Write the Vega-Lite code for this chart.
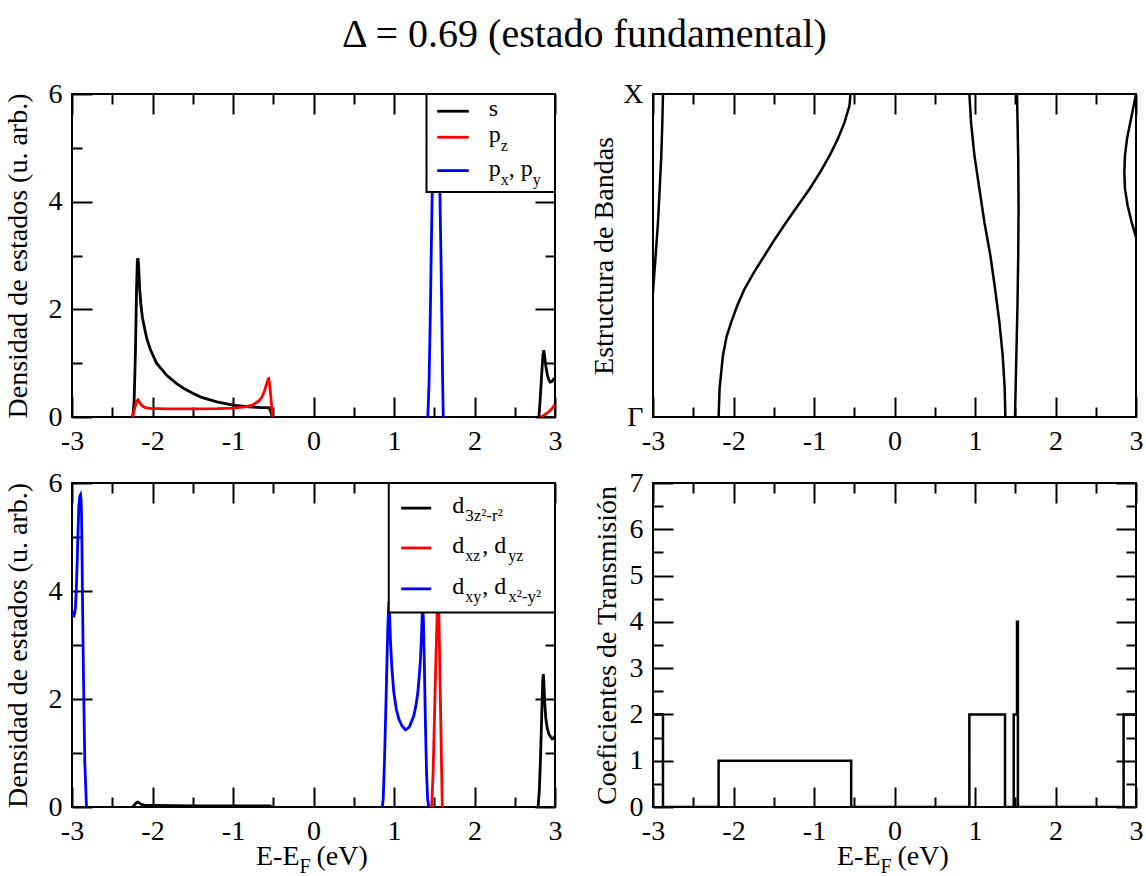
{
"$schema": "https://vega.github.io/schema/vega-lite/v6.json",
"background": "white",
"padding": {"left": 3, "top": 15, "right": 10, "bottom": 0},
"title": {"text": "Δ = 0.69 (estado fundamental)", "font": "Liberation Serif", "fontSize": 40, "fontWeight": "normal", "color": "black", "anchor": "start", "frame": "group", "dx": 270, "offset": 24},
"config": {
 "view": {"stroke": "black", "strokeWidth": 2},
 "axis": {"grid": false, "domain": false, "labelFont": "Liberation Serif", "labelFontSize": 28, "labelColor": "black", "titleFont": "Liberation Serif", "titleFontSize": 28, "titleFontWeight": "normal", "titleColor": "black", "tickColor": "black", "tickWidth": 2, "labelFlush": false, "labelOverlap": false, "labelBound": false},
 "text": {"font": "Liberation Serif", "color": "black"}
},
"datasets": {
 "one": [{}],
 "tl": [
  {"E": -2.245, "v": 0, "o": "s", "g": "s1"}, {"E": -2.228, "v": 0.3, "o": "s", "g": "s1"}, {"E": -2.212, "v": 1.2, "o": "s", "g": "s1"}, {"E": -2.198, "v": 2.4, "o": "s", "g": "s1"}, {"E": -2.188, "v": 2.92, "o": "s", "g": "s1"}, {"E": -2.18, "v": 2.95, "o": "s", "g": "s1"}, {"E": -2.172, "v": 2.8, "o": "s", "g": "s1"}, {"E": -2.16, "v": 2.4, "o": "s", "g": "s1"}, {"E": -2.145, "v": 2.1, "o": "s", "g": "s1"}, {"E": -2.125, "v": 1.85, "o": "s", "g": "s1"}, {"E": -2.108, "v": 1.72, "o": "s", "g": "s1"}, {"E": -2.07, "v": 1.45, "o": "s", "g": "s1"}, {"E": -2.025, "v": 1.25, "o": "s", "g": "s1"}, {"E": -1.95, "v": 1.0, "o": "s", "g": "s1"}, {"E": -1.82, "v": 0.77, "o": "s", "g": "s1"}, {"E": -1.7, "v": 0.62, "o": "s", "g": "s1"}, {"E": -1.61, "v": 0.53, "o": "s", "g": "s1"}, {"E": -1.5, "v": 0.44, "o": "s", "g": "s1"}, {"E": -1.4, "v": 0.37, "o": "s", "g": "s1"}, {"E": -1.2, "v": 0.28, "o": "s", "g": "s1"}, {"E": -1.0, "v": 0.22, "o": "s", "g": "s1"}, {"E": -0.8, "v": 0.19, "o": "s", "g": "s1"}, {"E": -0.65, "v": 0.175, "o": "s", "g": "s1"}, {"E": -0.58, "v": 0.175, "o": "s", "g": "s1"}, {"E": -0.55, "v": 0.17, "o": "s", "g": "s1"}, {"E": -0.53, "v": 0.1, "o": "s", "g": "s1"}, {"E": -0.515, "v": 0, "o": "s", "g": "s1"},
  {"E": 2.8, "v": 0, "o": "s", "g": "s2"}, {"E": 2.815, "v": 0.3, "o": "s", "g": "s2"}, {"E": 2.835, "v": 0.8, "o": "s", "g": "s2"}, {"E": 2.85, "v": 1.15, "o": "s", "g": "s2"}, {"E": 2.86, "v": 1.24, "o": "s", "g": "s2"}, {"E": 2.87, "v": 1.15, "o": "s", "g": "s2"}, {"E": 2.885, "v": 0.95, "o": "s", "g": "s2"}, {"E": 2.905, "v": 0.78, "o": "s", "g": "s2"}, {"E": 2.925, "v": 0.68, "o": "s", "g": "s2"}, {"E": 2.94, "v": 0.65, "o": "s", "g": "s2"}, {"E": 2.96, "v": 0.66, "o": "s", "g": "s2"}, {"E": 2.98, "v": 0.7, "o": "s", "g": "s2"}, {"E": 3.0, "v": 0.72, "o": "s", "g": "s2"},
  {"E": -2.25, "v": 0, "o": "pz", "g": "p1"}, {"E": -2.235, "v": 0.08, "o": "pz", "g": "p1"}, {"E": -2.215, "v": 0.2, "o": "pz", "g": "p1"}, {"E": -2.195, "v": 0.3, "o": "pz", "g": "p1"}, {"E": -2.178, "v": 0.32, "o": "pz", "g": "p1"}, {"E": -2.16, "v": 0.27, "o": "pz", "g": "p1"}, {"E": -2.13, "v": 0.21, "o": "pz", "g": "p1"}, {"E": -2.09, "v": 0.175, "o": "pz", "g": "p1"}, {"E": -2.03, "v": 0.16, "o": "pz", "g": "p1"}, {"E": -1.8, "v": 0.15, "o": "pz", "g": "p1"}, {"E": -1.5, "v": 0.15, "o": "pz", "g": "p1"}, {"E": -1.2, "v": 0.155, "o": "pz", "g": "p1"}, {"E": -1.0, "v": 0.165, "o": "pz", "g": "p1"}, {"E": -0.85, "v": 0.19, "o": "pz", "g": "p1"}, {"E": -0.75, "v": 0.225, "o": "pz", "g": "p1"}, {"E": -0.68, "v": 0.3, "o": "pz", "g": "p1"}, {"E": -0.64, "v": 0.37, "o": "pz", "g": "p1"}, {"E": -0.61, "v": 0.48, "o": "pz", "g": "p1"}, {"E": -0.585, "v": 0.6, "o": "pz", "g": "p1"}, {"E": -0.565, "v": 0.7, "o": "pz", "g": "p1"}, {"E": -0.555, "v": 0.71, "o": "pz", "g": "p1"}, {"E": -0.545, "v": 0.6, "o": "pz", "g": "p1"}, {"E": -0.53, "v": 0.38, "o": "pz", "g": "p1"}, {"E": -0.518, "v": 0.15, "o": "pz", "g": "p1"}, {"E": -0.508, "v": 0, "o": "pz", "g": "p1"},
  {"E": 2.82, "v": 0, "o": "pz", "g": "p2"}, {"E": 2.86, "v": 0.03, "o": "pz", "g": "p2"}, {"E": 2.9, "v": 0.07, "o": "pz", "g": "p2"}, {"E": 2.94, "v": 0.12, "o": "pz", "g": "p2"}, {"E": 2.97, "v": 0.17, "o": "pz", "g": "p2"}, {"E": 3.0, "v": 0.23, "o": "pz", "g": "p2"},
  {"E": 1.42, "v": 0, "o": "pxpy", "g": "x1"}, {"E": 1.435, "v": 0.6, "o": "pxpy", "g": "x1"}, {"E": 1.45, "v": 1.8, "o": "pxpy", "g": "x1"}, {"E": 1.462, "v": 3.0, "o": "pxpy", "g": "x1"}, {"E": 1.475, "v": 4.2, "o": "pxpy", "g": "x1"}, {"E": 1.49, "v": 6.2, "o": "pxpy", "g": "x1"}, {"E": 1.505, "v": 8, "o": "pxpy", "g": "x1"}, {"E": 1.52, "v": 8.5, "o": "pxpy", "g": "x1"}, {"E": 1.535, "v": 8, "o": "pxpy", "g": "x1"}, {"E": 1.55, "v": 6.2, "o": "pxpy", "g": "x1"}, {"E": 1.57, "v": 4.2, "o": "pxpy", "g": "x1"}, {"E": 1.583, "v": 3.0, "o": "pxpy", "g": "x1"}, {"E": 1.595, "v": 1.8, "o": "pxpy", "g": "x1"}, {"E": 1.603, "v": 0.8, "o": "pxpy", "g": "x1"}, {"E": 1.612, "v": 0, "o": "pxpy", "g": "x1"}
 ],
 "bl": [
  {"E": -2.25, "v": 0, "o": "d3z", "g": "a1"}, {"E": -2.23, "v": 0.03, "o": "d3z", "g": "a1"}, {"E": -2.2, "v": 0.08, "o": "d3z", "g": "a1"}, {"E": -2.185, "v": 0.09, "o": "d3z", "g": "a1"}, {"E": -2.17, "v": 0.08, "o": "d3z", "g": "a1"}, {"E": -2.14, "v": 0.05, "o": "d3z", "g": "a1"}, {"E": -2.1, "v": 0.035, "o": "d3z", "g": "a1"}, {"E": -2.0, "v": 0.03, "o": "d3z", "g": "a1"}, {"E": -1.5, "v": 0.02, "o": "d3z", "g": "a1"}, {"E": -1.0, "v": 0.02, "o": "d3z", "g": "a1"}, {"E": -0.6, "v": 0.02, "o": "d3z", "g": "a1"}, {"E": -0.54, "v": 0.02, "o": "d3z", "g": "a1"}, {"E": -0.52, "v": 0, "o": "d3z", "g": "a1"},
  {"E": 2.79, "v": 0, "o": "d3z", "g": "a2"}, {"E": 2.805, "v": 0.3, "o": "d3z", "g": "a2"}, {"E": 2.82, "v": 0.9, "o": "d3z", "g": "a2"}, {"E": 2.835, "v": 1.7, "o": "d3z", "g": "a2"}, {"E": 2.848, "v": 2.35, "o": "d3z", "g": "a2"}, {"E": 2.855, "v": 2.46, "o": "d3z", "g": "a2"}, {"E": 2.862, "v": 2.3, "o": "d3z", "g": "a2"}, {"E": 2.872, "v": 1.95, "o": "d3z", "g": "a2"}, {"E": 2.885, "v": 1.65, "o": "d3z", "g": "a2"}, {"E": 2.905, "v": 1.45, "o": "d3z", "g": "a2"}, {"E": 2.925, "v": 1.35, "o": "d3z", "g": "a2"}, {"E": 2.945, "v": 1.3, "o": "d3z", "g": "a2"}, {"E": 2.965, "v": 1.26, "o": "d3z", "g": "a2"}, {"E": 2.98, "v": 1.27, "o": "d3z", "g": "a2"}, {"E": 3.0, "v": 1.32, "o": "d3z", "g": "a2"},
  {"E": 1.468, "v": 0, "o": "dxz", "g": "b1"}, {"E": 1.485, "v": 0.6, "o": "dxz", "g": "b1"}, {"E": 1.5, "v": 1.5, "o": "dxz", "g": "b1"}, {"E": 1.52, "v": 2.7, "o": "dxz", "g": "b1"}, {"E": 1.537, "v": 3.6, "o": "dxz", "g": "b1"}, {"E": 1.547, "v": 4.3, "o": "dxz", "g": "b1"}, {"E": 1.557, "v": 3.6, "o": "dxz", "g": "b1"}, {"E": 1.575, "v": 2.1, "o": "dxz", "g": "b1"}, {"E": 1.59, "v": 0.8, "o": "dxz", "g": "b1"}, {"E": 1.6, "v": 0, "o": "dxz", "g": "b1"},
  {"E": -3.0, "v": 3.63, "o": "dxy", "g": "c1"}, {"E": -2.988, "v": 3.55, "o": "dxy", "g": "c1"}, {"E": -2.977, "v": 3.54, "o": "dxy", "g": "c1"}, {"E": -2.967, "v": 3.58, "o": "dxy", "g": "c1"}, {"E": -2.957, "v": 3.7, "o": "dxy", "g": "c1"}, {"E": -2.946, "v": 4.05, "o": "dxy", "g": "c1"}, {"E": -2.936, "v": 4.52, "o": "dxy", "g": "c1"}, {"E": -2.925, "v": 5.1, "o": "dxy", "g": "c1"}, {"E": -2.915, "v": 5.57, "o": "dxy", "g": "c1"}, {"E": -2.904, "v": 5.75, "o": "dxy", "g": "c1"}, {"E": -2.894, "v": 5.78, "o": "dxy", "g": "c1"}, {"E": -2.888, "v": 5.7, "o": "dxy", "g": "c1"}, {"E": -2.882, "v": 5.45, "o": "dxy", "g": "c1"}, {"E": -2.876, "v": 4.8, "o": "dxy", "g": "c1"}, {"E": -2.87, "v": 3.9, "o": "dxy", "g": "c1"}, {"E": -2.857, "v": 2.37, "o": "dxy", "g": "c1"}, {"E": -2.841, "v": 0.83, "o": "dxy", "g": "c1"}, {"E": -2.82, "v": 0, "o": "dxy", "g": "c1"},
  {"E": 0.855, "v": 0, "o": "dxy", "g": "c2"}, {"E": 0.866, "v": 0.15, "o": "dxy", "g": "c2"}, {"E": 0.882, "v": 0.86, "o": "dxy", "g": "c2"}, {"E": 0.903, "v": 2.09, "o": "dxy", "g": "c2"}, {"E": 0.923, "v": 3.32, "o": "dxy", "g": "c2"}, {"E": 0.937, "v": 3.8, "o": "dxy", "g": "c2"}, {"E": 0.947, "v": 3.5, "o": "dxy", "g": "c2"}, {"E": 0.957, "v": 3.04, "o": "dxy", "g": "c2"}, {"E": 0.975, "v": 2.55, "o": "dxy", "g": "c2"}, {"E": 0.998, "v": 2.12, "o": "dxy", "g": "c2"}, {"E": 1.03, "v": 1.8, "o": "dxy", "g": "c2"}, {"E": 1.06, "v": 1.63, "o": "dxy", "g": "c2"}, {"E": 1.1, "v": 1.5, "o": "dxy", "g": "c2"}, {"E": 1.143, "v": 1.43, "o": "dxy", "g": "c2"}, {"E": 1.19, "v": 1.48, "o": "dxy", "g": "c2"}, {"E": 1.246, "v": 1.69, "o": "dxy", "g": "c2"}, {"E": 1.275, "v": 1.9, "o": "dxy", "g": "c2"}, {"E": 1.296, "v": 2.12, "o": "dxy", "g": "c2"}, {"E": 1.315, "v": 2.45, "o": "dxy", "g": "c2"}, {"E": 1.329, "v": 2.73, "o": "dxy", "g": "c2"}, {"E": 1.342, "v": 3.2, "o": "dxy", "g": "c2"}, {"E": 1.355, "v": 3.75, "o": "dxy", "g": "c2"}, {"E": 1.365, "v": 3.5, "o": "dxy", "g": "c2"}, {"E": 1.375, "v": 2.8, "o": "dxy", "g": "c2"}, {"E": 1.391, "v": 1.5, "o": "dxy", "g": "c2"}, {"E": 1.405, "v": 0.6, "o": "dxy", "g": "c2"}, {"E": 1.418, "v": 0.15, "o": "dxy", "g": "c2"}, {"E": 1.432, "v": 0, "o": "dxy", "g": "c2"}
 ],
 "bands": [
  {"k": 0.3, "E": -3.03, "b": "b1"}, {"k": 0.387, "E": -3.0, "b": "b1"}, {"k": 0.5, "E": -2.967, "b": "b1"}, {"k": 0.603, "E": -2.938, "b": "b1"}, {"k": 0.706, "E": -2.917, "b": "b1"}, {"k": 0.809, "E": -2.897, "b": "b1"}, {"k": 0.912, "E": -2.884, "b": "b1"}, {"k": 1.0, "E": -2.876, "b": "b1"},
  {"k": 0, "E": -2.185, "b": "b2"}, {"k": 0.088, "E": -2.173, "b": "b2"}, {"k": 0.191, "E": -2.131, "b": "b2"}, {"k": 0.25, "E": -2.085, "b": "b2"}, {"k": 0.294, "E": -2.028, "b": "b2"}, {"k": 0.345, "E": -1.953, "b": "b2"}, {"k": 0.397, "E": -1.862, "b": "b2"}, {"k": 0.448, "E": -1.746, "b": "b2"}, {"k": 0.5, "E": -1.614, "b": "b2"}, {"k": 0.552, "E": -1.482, "b": "b2"}, {"k": 0.603, "E": -1.345, "b": "b2"}, {"k": 0.655, "E": -1.2, "b": "b2"}, {"k": 0.706, "E": -1.055, "b": "b2"}, {"k": 0.758, "E": -0.923, "b": "b2"}, {"k": 0.809, "E": -0.807, "b": "b2"}, {"k": 0.861, "E": -0.704, "b": "b2"}, {"k": 0.912, "E": -0.621, "b": "b2"}, {"k": 0.964, "E": -0.559, "b": "b2"}, {"k": 1.0, "E": -0.547, "b": "b2"},
  {"k": 0, "E": 1.377, "b": "b3"}, {"k": 0.088, "E": 1.369, "b": "b3"}, {"k": 0.191, "E": 1.344, "b": "b3"}, {"k": 0.294, "E": 1.303, "b": "b3"}, {"k": 0.397, "E": 1.249, "b": "b3"}, {"k": 0.5, "E": 1.191, "b": "b3"}, {"k": 0.603, "E": 1.117, "b": "b3"}, {"k": 0.706, "E": 1.055, "b": "b3"}, {"k": 0.809, "E": 0.993, "b": "b3"}, {"k": 0.912, "E": 0.951, "b": "b3"}, {"k": 1.0, "E": 0.93, "b": "b3"},
  {"k": 0, "E": 1.497, "b": "b4"}, {"k": 0.15, "E": 1.51, "b": "b4"}, {"k": 0.35, "E": 1.528, "b": "b4"}, {"k": 0.5, "E": 1.537, "b": "b4"}, {"k": 0.65, "E": 1.541, "b": "b4"}, {"k": 0.8, "E": 1.537, "b": "b4"}, {"k": 0.92, "E": 1.528, "b": "b4"}, {"k": 1.0, "E": 1.522, "b": "b4"},
  {"k": 0.52, "E": 3.05, "b": "b5"}, {"k": 0.557, "E": 3.0, "b": "b5"}, {"k": 0.603, "E": 2.946, "b": "b5"}, {"k": 0.655, "E": 2.896, "b": "b5"}, {"k": 0.706, "E": 2.863, "b": "b5"}, {"k": 0.758, "E": 2.855, "b": "b5"}, {"k": 0.809, "E": 2.863, "b": "b5"}, {"k": 0.861, "E": 2.888, "b": "b5"}, {"k": 0.912, "E": 2.929, "b": "b5"}, {"k": 0.964, "E": 2.971, "b": "b5"}, {"k": 1.0, "E": 3.0, "b": "b5"}
 ],
 "trans": [
  {"E": -3.0, "T": 2}, {"E": -2.876, "T": 0}, {"E": -2.185, "T": 1}, {"E": -0.538, "T": 0}, {"E": 0.93, "T": 2}, {"E": 1.373, "T": 0}, {"E": 1.481, "T": 2}, {"E": 1.522, "T": 4}, {"E": 1.533, "T": 0}, {"E": 2.846, "T": 2}, {"E": 3.0, "T": 2}
 ]
},
"concat": [
 {
  "width": 483, "height": 323,
  "layer": [
   {"data": {"name": "one"}, "mark": {"type": "point", "opacity": 0}, "encoding": {
     "x": {"datum": 0, "type": "quantitative", "scale": {"domain": [-3, 3], "nice": false, "zero": false}, "axis": {"orient": "bottom", "values": [-3, -2, -1, 0, 1, 2, 3], "ticks": false, "labelPadding": 10, "labelExpr": "'' + datum.value", "title": null}},
     "y": {"datum": 0, "type": "quantitative", "scale": {"domain": [0, 6], "nice": false, "zero": false}, "axis": {"orient": "left", "values": [0, 2, 4, 6], "ticks": false, "labelPadding": 10, "labelExpr": "'' + datum.value", "title": "Densidad de estados (u. arb.)", "titlePadding": 16}}}},
   {"data": {"name": "one"}, "mark": {"type": "point", "opacity": 0}, "encoding": {
     "x": {"datum": 0, "type": "quantitative", "scale": {"domain": [-3, 3], "nice": false, "zero": false}, "axis": {"orient": "bottom", "values": [-3, -2, -1, 0, 1, 2, 3], "tickSize": -20, "labels": false, "title": null}},
     "y": {"datum": 0, "type": "quantitative", "scale": {"domain": [0, 6], "nice": false, "zero": false}, "axis": {"orient": "left", "values": [0, 2, 4, 6], "tickSize": -20, "labels": false, "title": null}}}},
   {"data": {"name": "one"}, "mark": {"type": "point", "opacity": 0}, "encoding": {
     "x": {"datum": 0, "type": "quantitative", "scale": {"domain": [-3, 3], "nice": false, "zero": false}, "axis": {"orient": "bottom", "values": [-2.5, -1.5, -0.5, 0.5, 1.5, 2.5], "tickSize": -10, "labels": false, "title": null}},
     "y": {"datum": 0, "type": "quantitative", "scale": {"domain": [0, 6], "nice": false, "zero": false}, "axis": {"orient": "left", "values": [1, 3, 5], "tickSize": -10, "labels": false, "title": null}}}},
   {"data": {"name": "one"}, "mark": {"type": "point", "opacity": 0}, "encoding": {
     "x": {"datum": 0, "type": "quantitative", "scale": {"domain": [-3, 3], "nice": false, "zero": false}, "axis": {"orient": "top", "values": [-3, -2, -1, 0, 1, 2, 3], "tickSize": -20, "labels": false, "title": null}},
     "y": {"datum": 0, "type": "quantitative", "scale": {"domain": [0, 6], "nice": false, "zero": false}, "axis": {"orient": "right", "values": [0, 2, 4, 6], "tickSize": -20, "labels": false, "title": null}}}},
   {"data": {"name": "one"}, "mark": {"type": "point", "opacity": 0}, "encoding": {
     "x": {"datum": 0, "type": "quantitative", "scale": {"domain": [-3, 3], "nice": false, "zero": false}, "axis": {"orient": "top", "values": [-2.5, -1.5, -0.5, 0.5, 1.5, 2.5], "tickSize": -10, "labels": false, "title": null}},
     "y": {"datum": 0, "type": "quantitative", "scale": {"domain": [0, 6], "nice": false, "zero": false}, "axis": {"orient": "right", "values": [1, 3, 5], "tickSize": -10, "labels": false, "title": null}}}},
   {"data": {"name": "tl"}, "transform": [{"filter": "datum.o == 's'"}], "mark": {"type": "line", "color": "black", "strokeWidth": 2.8, "clip": true}, "encoding": {
     "x": {"field": "E", "type": "quantitative", "scale": {"domain": [-3, 3], "nice": false, "zero": false}, "axis": null},
     "y": {"field": "v", "type": "quantitative", "scale": {"domain": [0, 6], "nice": false, "zero": false}, "axis": null},
     "detail": {"field": "g"}}},
   {"data": {"name": "tl"}, "transform": [{"filter": "datum.o == 'pz'"}], "mark": {"type": "line", "color": "red", "strokeWidth": 2.8, "clip": true}, "encoding": {
     "x": {"field": "E", "type": "quantitative", "scale": {"domain": [-3, 3], "nice": false, "zero": false}, "axis": null},
     "y": {"field": "v", "type": "quantitative", "scale": {"domain": [0, 6], "nice": false, "zero": false}, "axis": null},
     "detail": {"field": "g"}}},
   {"data": {"name": "tl"}, "transform": [{"filter": "datum.o == 'pxpy'"}], "mark": {"type": "line", "color": "blue", "strokeWidth": 2.8, "clip": true}, "encoding": {
     "x": {"field": "E", "type": "quantitative", "scale": {"domain": [-3, 3], "nice": false, "zero": false}, "axis": null},
     "y": {"field": "v", "type": "quantitative", "scale": {"domain": [0, 6], "nice": false, "zero": false}, "axis": null},
     "detail": {"field": "g"}}},
   {"data": {"name": "one"}, "mark": {"type": "rect", "fill": "white", "stroke": "black", "strokeWidth": 2}, "encoding": {
     "x": {"datum": 1.404, "type": "quantitative", "scale": {"domain": [-3, 3], "nice": false, "zero": false}, "axis": null}, "x2": {"datum": 3},
     "y": {"datum": 4.18, "type": "quantitative", "scale": {"domain": [0, 6], "nice": false, "zero": false}, "axis": null}, "y2": {"datum": 6}}},
   {"data": {"name": "one"}, "mark": {"type": "rule", "color": "black", "strokeWidth": 2.8}, "encoding": {
     "x": {"datum": 1.537, "type": "quantitative", "scale": {"domain": [-3, 3], "nice": false, "zero": false}, "axis": null}, "x2": {"datum": 1.929},
     "y": {"datum": 5.68, "type": "quantitative", "scale": {"domain": [0, 6], "nice": false, "zero": false}, "axis": null}}},
   {"data": {"name": "one"}, "mark": {"type": "rule", "color": "red", "strokeWidth": 2.8}, "encoding": {
     "x": {"datum": 1.537, "type": "quantitative", "scale": {"domain": [-3, 3], "nice": false, "zero": false}, "axis": null}, "x2": {"datum": 1.929},
     "y": {"datum": 5.197, "type": "quantitative", "scale": {"domain": [0, 6], "nice": false, "zero": false}, "axis": null}}},
   {"data": {"name": "one"}, "mark": {"type": "rule", "color": "blue", "strokeWidth": 2.8}, "encoding": {
     "x": {"datum": 1.537, "type": "quantitative", "scale": {"domain": [-3, 3], "nice": false, "zero": false}, "axis": null}, "x2": {"datum": 1.929},
     "y": {"datum": 4.577, "type": "quantitative", "scale": {"domain": [0, 6], "nice": false, "zero": false}, "axis": null}}},
   {"data": {"name": "one"}, "mark": {"type": "text", "text": "s", "align": "left", "baseline": "alphabetic", "fontSize": 24, "dx": 0, "dy": 5}, "encoding": {
     "x": {"datum": 2.178, "type": "quantitative", "scale": {"domain": [-3, 3], "nice": false, "zero": false}, "axis": null},
     "y": {"datum": 5.68, "type": "quantitative", "scale": {"domain": [0, 6], "nice": false, "zero": false}, "axis": null}}},
   {"data": {"name": "one"}, "mark": {"type": "text", "text": "p", "align": "left", "baseline": "alphabetic", "fontSize": 24, "dx": 0, "dy": 5}, "encoding": {
     "x": {"datum": 2.178, "type": "quantitative", "scale": {"domain": [-3, 3], "nice": false, "zero": false}, "axis": null},
     "y": {"datum": 5.197, "type": "quantitative", "scale": {"domain": [0, 6], "nice": false, "zero": false}, "axis": null}}},
   {"data": {"name": "one"}, "mark": {"type": "text", "text": "z", "align": "left", "baseline": "alphabetic", "fontSize": 16, "dx": 12, "dy": 14}, "encoding": {
     "x": {"datum": 2.178, "type": "quantitative", "scale": {"domain": [-3, 3], "nice": false, "zero": false}, "axis": null},
     "y": {"datum": 5.197, "type": "quantitative", "scale": {"domain": [0, 6], "nice": false, "zero": false}, "axis": null}}},
   {"data": {"name": "one"}, "mark": {"type": "text", "text": "p", "align": "left", "baseline": "alphabetic", "fontSize": 24, "dx": 0, "dy": 5}, "encoding": {
     "x": {"datum": 2.178, "type": "quantitative", "scale": {"domain": [-3, 3], "nice": false, "zero": false}, "axis": null},
     "y": {"datum": 4.577, "type": "quantitative", "scale": {"domain": [0, 6], "nice": false, "zero": false}, "axis": null}}},
   {"data": {"name": "one"}, "mark": {"type": "text", "text": "x", "align": "left", "baseline": "alphabetic", "fontSize": 16, "dx": 12, "dy": 14}, "encoding": {
     "x": {"datum": 2.178, "type": "quantitative", "scale": {"domain": [-3, 3], "nice": false, "zero": false}, "axis": null},
     "y": {"datum": 4.577, "type": "quantitative", "scale": {"domain": [0, 6], "nice": false, "zero": false}, "axis": null}}},
   {"data": {"name": "one"}, "mark": {"type": "text", "text": ", p", "align": "left", "baseline": "alphabetic", "fontSize": 24, "dx": 20, "dy": 5}, "encoding": {
     "x": {"datum": 2.178, "type": "quantitative", "scale": {"domain": [-3, 3], "nice": false, "zero": false}, "axis": null},
     "y": {"datum": 4.577, "type": "quantitative", "scale": {"domain": [0, 6], "nice": false, "zero": false}, "axis": null}}},
   {"data": {"name": "one"}, "mark": {"type": "text", "text": "y", "align": "left", "baseline": "alphabetic", "fontSize": 16, "dx": 44, "dy": 14}, "encoding": {
     "x": {"datum": 2.178, "type": "quantitative", "scale": {"domain": [-3, 3], "nice": false, "zero": false}, "axis": null},
     "y": {"datum": 4.577, "type": "quantitative", "scale": {"domain": [0, 6], "nice": false, "zero": false}, "axis": null}}}
  ],
  "resolve": {"axis": {"x": "independent", "y": "independent"}}
 },
 {
  "width": 483, "height": 323,
  "layer": [
   {"data": {"name": "one"}, "mark": {"type": "point", "opacity": 0}, "encoding": {
     "x": {"datum": 0, "type": "quantitative", "scale": {"domain": [-3, 3], "nice": false, "zero": false}, "axis": {"orient": "bottom", "values": [-3, -2, -1, 0, 1, 2, 3], "ticks": false, "labelPadding": 10, "labelExpr": "'' + datum.value", "title": null}},
     "y": {"datum": 0, "type": "quantitative", "scale": {"domain": [0, 1], "nice": false, "zero": false}, "axis": {"orient": "left", "values": [0, 1], "ticks": false, "labelPadding": 10, "labelExpr": "datum.value == 0 ? 'Γ' : 'X'", "title": "Estructura de Bandas", "titlePadding": 4}}}},
   {"data": {"name": "one"}, "mark": {"type": "point", "opacity": 0}, "encoding": {
     "x": {"datum": 0, "type": "quantitative", "scale": {"domain": [-3, 3], "nice": false, "zero": false}, "axis": {"orient": "bottom", "values": [-3, -2, -1, 0, 1, 2, 3], "tickSize": -20, "labels": false, "title": null}},
     "y": {"datum": 0, "type": "quantitative", "scale": {"domain": [0, 1], "nice": false, "zero": false}, "axis": null}}},
   {"data": {"name": "one"}, "mark": {"type": "point", "opacity": 0}, "encoding": {
     "x": {"datum": 0, "type": "quantitative", "scale": {"domain": [-3, 3], "nice": false, "zero": false}, "axis": {"orient": "bottom", "values": [-2.5, -1.5, -0.5, 0.5, 1.5, 2.5], "tickSize": -10, "labels": false, "title": null}},
     "y": {"datum": 0, "type": "quantitative", "scale": {"domain": [0, 1], "nice": false, "zero": false}, "axis": null}}},
   {"data": {"name": "one"}, "mark": {"type": "point", "opacity": 0}, "encoding": {
     "x": {"datum": 0, "type": "quantitative", "scale": {"domain": [-3, 3], "nice": false, "zero": false}, "axis": {"orient": "top", "values": [-3, -2, -1, 0, 1, 2, 3], "tickSize": -20, "labels": false, "title": null}},
     "y": {"datum": 0, "type": "quantitative", "scale": {"domain": [0, 1], "nice": false, "zero": false}, "axis": null}}},
   {"data": {"name": "one"}, "mark": {"type": "point", "opacity": 0}, "encoding": {
     "x": {"datum": 0, "type": "quantitative", "scale": {"domain": [-3, 3], "nice": false, "zero": false}, "axis": {"orient": "top", "values": [-2.5, -1.5, -0.5, 0.5, 1.5, 2.5], "tickSize": -10, "labels": false, "title": null}},
     "y": {"datum": 0, "type": "quantitative", "scale": {"domain": [0, 1], "nice": false, "zero": false}, "axis": null}}},
   {"data": {"name": "bands"}, "mark": {"type": "line", "color": "black", "strokeWidth": 2.5, "clip": true}, "encoding": {
     "x": {"field": "E", "type": "quantitative", "scale": {"domain": [-3, 3], "nice": false, "zero": false}, "axis": null},
     "y": {"field": "k", "type": "quantitative", "scale": {"domain": [0, 1], "nice": false, "zero": false}, "axis": null},
     "detail": {"field": "b"}, "order": {"field": "k"}}}
  ],
  "resolve": {"axis": {"x": "independent", "y": "independent"}}
 },
 {
  "width": 483, "height": 324,
  "layer": [
   {"data": {"name": "one"}, "mark": {"type": "point", "opacity": 0}, "encoding": {
     "x": {"datum": 0, "type": "quantitative", "scale": {"domain": [-3, 3], "nice": false, "zero": false}, "axis": {"orient": "bottom", "values": [-3, -2, -1, 0, 1, 2, 3], "ticks": false, "labelPadding": 10, "labelExpr": "'' + datum.value", "title": null}},
     "y": {"datum": 0, "type": "quantitative", "scale": {"domain": [0, 6], "nice": false, "zero": false}, "axis": {"orient": "left", "values": [0, 2, 4, 6], "ticks": false, "labelPadding": 10, "labelExpr": "'' + datum.value", "title": "Densidad de estados (u. arb.)", "titlePadding": 16}}}},
   {"data": {"name": "one"}, "mark": {"type": "point", "opacity": 0}, "encoding": {
     "x": {"datum": 0, "type": "quantitative", "scale": {"domain": [-3, 3], "nice": false, "zero": false}, "axis": {"orient": "bottom", "values": [-3, -2, -1, 0, 1, 2, 3], "tickSize": -20, "labels": false, "title": null}},
     "y": {"datum": 0, "type": "quantitative", "scale": {"domain": [0, 6], "nice": false, "zero": false}, "axis": {"orient": "left", "values": [0, 2, 4, 6], "tickSize": -20, "labels": false, "title": null}}}},
   {"data": {"name": "one"}, "mark": {"type": "point", "opacity": 0}, "encoding": {
     "x": {"datum": 0, "type": "quantitative", "scale": {"domain": [-3, 3], "nice": false, "zero": false}, "axis": {"orient": "bottom", "values": [-2.5, -1.5, -0.5, 0.5, 1.5, 2.5], "tickSize": -10, "labels": false, "title": null}},
     "y": {"datum": 0, "type": "quantitative", "scale": {"domain": [0, 6], "nice": false, "zero": false}, "axis": {"orient": "left", "values": [1, 3, 5], "tickSize": -10, "labels": false, "title": null}}}},
   {"data": {"name": "one"}, "mark": {"type": "point", "opacity": 0}, "encoding": {
     "x": {"datum": 0, "type": "quantitative", "scale": {"domain": [-3, 3], "nice": false, "zero": false}, "axis": {"orient": "top", "values": [-3, -2, -1, 0, 1, 2, 3], "tickSize": -20, "labels": false, "title": null}},
     "y": {"datum": 0, "type": "quantitative", "scale": {"domain": [0, 6], "nice": false, "zero": false}, "axis": {"orient": "right", "values": [0, 2, 4, 6], "tickSize": -20, "labels": false, "title": null}}}},
   {"data": {"name": "one"}, "mark": {"type": "point", "opacity": 0}, "encoding": {
     "x": {"datum": 0, "type": "quantitative", "scale": {"domain": [-3, 3], "nice": false, "zero": false}, "axis": {"orient": "top", "values": [-2.5, -1.5, -0.5, 0.5, 1.5, 2.5], "tickSize": -10, "labels": false, "title": null}},
     "y": {"datum": 0, "type": "quantitative", "scale": {"domain": [0, 6], "nice": false, "zero": false}, "axis": {"orient": "right", "values": [1, 3, 5], "tickSize": -10, "labels": false, "title": null}}}},
   {"data": {"name": "bl"}, "transform": [{"filter": "datum.o == 'd3z'"}], "mark": {"type": "line", "color": "black", "strokeWidth": 2.8, "clip": true}, "encoding": {
     "x": {"field": "E", "type": "quantitative", "scale": {"domain": [-3, 3], "nice": false, "zero": false}, "axis": null},
     "y": {"field": "v", "type": "quantitative", "scale": {"domain": [0, 6], "nice": false, "zero": false}, "axis": null},
     "detail": {"field": "g"}}},
   {"data": {"name": "bl"}, "transform": [{"filter": "datum.o == 'dxz'"}], "mark": {"type": "line", "color": "red", "strokeWidth": 2.8, "clip": true}, "encoding": {
     "x": {"field": "E", "type": "quantitative", "scale": {"domain": [-3, 3], "nice": false, "zero": false}, "axis": null},
     "y": {"field": "v", "type": "quantitative", "scale": {"domain": [0, 6], "nice": false, "zero": false}, "axis": null},
     "detail": {"field": "g"}}},
   {"data": {"name": "bl"}, "transform": [{"filter": "datum.o == 'dxy'"}], "mark": {"type": "line", "color": "blue", "strokeWidth": 2.8, "clip": true}, "encoding": {
     "x": {"field": "E", "type": "quantitative", "scale": {"domain": [-3, 3], "nice": false, "zero": false}, "axis": null},
     "y": {"field": "v", "type": "quantitative", "scale": {"domain": [0, 6], "nice": false, "zero": false}, "axis": null},
     "detail": {"field": "g"}}},
   {"data": {"name": "one"}, "mark": {"type": "rect", "fill": "white", "stroke": "black", "strokeWidth": 2}, "encoding": {
     "x": {"datum": 0.935, "type": "quantitative", "scale": {"domain": [-3, 3], "nice": false, "zero": false}, "axis": null}, "x2": {"datum": 3},
     "y": {"datum": 3.6, "type": "quantitative", "scale": {"domain": [0, 6], "nice": false, "zero": false}, "axis": null}, "y2": {"datum": 6}}},
   {"data": {"name": "one"}, "mark": {"type": "rule", "color": "black", "strokeWidth": 2.8}, "encoding": {
     "x": {"datum": 1.089, "type": "quantitative", "scale": {"domain": [-3, 3], "nice": false, "zero": false}, "axis": null}, "x2": {"datum": 1.462},
     "y": {"datum": 5.535, "type": "quantitative", "scale": {"domain": [0, 6], "nice": false, "zero": false}, "axis": null}}},
   {"data": {"name": "one"}, "mark": {"type": "rule", "color": "red", "strokeWidth": 2.8}, "encoding": {
     "x": {"datum": 1.089, "type": "quantitative", "scale": {"domain": [-3, 3], "nice": false, "zero": false}, "axis": null}, "x2": {"datum": 1.462},
     "y": {"datum": 4.797, "type": "quantitative", "scale": {"domain": [0, 6], "nice": false, "zero": false}, "axis": null}}},
   {"data": {"name": "one"}, "mark": {"type": "rule", "color": "blue", "strokeWidth": 2.8}, "encoding": {
     "x": {"datum": 1.089, "type": "quantitative", "scale": {"domain": [-3, 3], "nice": false, "zero": false}, "axis": null}, "x2": {"datum": 1.462},
     "y": {"datum": 4.04, "type": "quantitative", "scale": {"domain": [0, 6], "nice": false, "zero": false}, "axis": null}}},
   {"data": {"name": "one"}, "mark": {"type": "text", "text": "d", "align": "left", "baseline": "alphabetic", "fontSize": 24, "dx": 0, "dy": 5}, "encoding": {
     "x": {"datum": 1.723, "type": "quantitative", "scale": {"domain": [-3, 3], "nice": false, "zero": false}, "axis": null},
     "y": {"datum": 5.535, "type": "quantitative", "scale": {"domain": [0, 6], "nice": false, "zero": false}, "axis": null}}},
   {"data": {"name": "one"}, "mark": {"type": "text", "text": "3z²-r²", "align": "left", "baseline": "alphabetic", "fontSize": 17, "dx": 13, "dy": 13}, "encoding": {
     "x": {"datum": 1.723, "type": "quantitative", "scale": {"domain": [-3, 3], "nice": false, "zero": false}, "axis": null},
     "y": {"datum": 5.535, "type": "quantitative", "scale": {"domain": [0, 6], "nice": false, "zero": false}, "axis": null}}},
   {"data": {"name": "one"}, "mark": {"type": "text", "text": "d", "align": "left", "baseline": "alphabetic", "fontSize": 24, "dx": 0, "dy": 5}, "encoding": {
     "x": {"datum": 1.723, "type": "quantitative", "scale": {"domain": [-3, 3], "nice": false, "zero": false}, "axis": null},
     "y": {"datum": 4.797, "type": "quantitative", "scale": {"domain": [0, 6], "nice": false, "zero": false}, "axis": null}}},
   {"data": {"name": "one"}, "mark": {"type": "text", "text": "xz", "align": "left", "baseline": "alphabetic", "fontSize": 16, "dx": 13, "dy": 13}, "encoding": {
     "x": {"datum": 1.723, "type": "quantitative", "scale": {"domain": [-3, 3], "nice": false, "zero": false}, "axis": null},
     "y": {"datum": 4.797, "type": "quantitative", "scale": {"domain": [0, 6], "nice": false, "zero": false}, "axis": null}}},
   {"data": {"name": "one"}, "mark": {"type": "text", "text": ", d", "align": "left", "baseline": "alphabetic", "fontSize": 24, "dx": 30, "dy": 5}, "encoding": {
     "x": {"datum": 1.723, "type": "quantitative", "scale": {"domain": [-3, 3], "nice": false, "zero": false}, "axis": null},
     "y": {"datum": 4.797, "type": "quantitative", "scale": {"domain": [0, 6], "nice": false, "zero": false}, "axis": null}}},
   {"data": {"name": "one"}, "mark": {"type": "text", "text": "yz", "align": "left", "baseline": "alphabetic", "fontSize": 16, "dx": 56, "dy": 13}, "encoding": {
     "x": {"datum": 1.723, "type": "quantitative", "scale": {"domain": [-3, 3], "nice": false, "zero": false}, "axis": null},
     "y": {"datum": 4.797, "type": "quantitative", "scale": {"domain": [0, 6], "nice": false, "zero": false}, "axis": null}}},
   {"data": {"name": "one"}, "mark": {"type": "text", "text": "d", "align": "left", "baseline": "alphabetic", "fontSize": 24, "dx": 0, "dy": 5}, "encoding": {
     "x": {"datum": 1.723, "type": "quantitative", "scale": {"domain": [-3, 3], "nice": false, "zero": false}, "axis": null},
     "y": {"datum": 4.04, "type": "quantitative", "scale": {"domain": [0, 6], "nice": false, "zero": false}, "axis": null}}},
   {"data": {"name": "one"}, "mark": {"type": "text", "text": "xy", "align": "left", "baseline": "alphabetic", "fontSize": 16, "dx": 13, "dy": 13}, "encoding": {
     "x": {"datum": 1.723, "type": "quantitative", "scale": {"domain": [-3, 3], "nice": false, "zero": false}, "axis": null},
     "y": {"datum": 4.04, "type": "quantitative", "scale": {"domain": [0, 6], "nice": false, "zero": false}, "axis": null}}},
   {"data": {"name": "one"}, "mark": {"type": "text", "text": ", d", "align": "left", "baseline": "alphabetic", "fontSize": 24, "dx": 30, "dy": 5}, "encoding": {
     "x": {"datum": 1.723, "type": "quantitative", "scale": {"domain": [-3, 3], "nice": false, "zero": false}, "axis": null},
     "y": {"datum": 4.04, "type": "quantitative", "scale": {"domain": [0, 6], "nice": false, "zero": false}, "axis": null}}},
   {"data": {"name": "one"}, "mark": {"type": "text", "text": "x²-y²", "align": "left", "baseline": "alphabetic", "fontSize": 17, "dx": 56, "dy": 13}, "encoding": {
     "x": {"datum": 1.723, "type": "quantitative", "scale": {"domain": [-3, 3], "nice": false, "zero": false}, "axis": null},
     "y": {"datum": 4.04, "type": "quantitative", "scale": {"domain": [0, 6], "nice": false, "zero": false}, "axis": null}}},
   {"data": {"name": "one"}, "mark": {"type": "text", "text": "E-E", "align": "right", "baseline": "alphabetic", "fontSize": 28, "dx": -14, "dy": 58}, "encoding": {
     "x": {"datum": 0, "type": "quantitative", "scale": {"domain": [-3, 3], "nice": false, "zero": false}, "axis": null},
     "y": {"datum": 0, "type": "quantitative", "scale": {"domain": [0, 6], "nice": false, "zero": false}, "axis": null}}},
   {"data": {"name": "one"}, "mark": {"type": "text", "text": "F", "align": "left", "baseline": "alphabetic", "fontSize": 20, "dx": -14, "dy": 66}, "encoding": {
     "x": {"datum": 0, "type": "quantitative", "scale": {"domain": [-3, 3], "nice": false, "zero": false}, "axis": null},
     "y": {"datum": 0, "type": "quantitative", "scale": {"domain": [0, 6], "nice": false, "zero": false}, "axis": null}}},
   {"data": {"name": "one"}, "mark": {"type": "text", "text": "(eV)", "align": "left", "baseline": "alphabetic", "fontSize": 28, "dx": 3, "dy": 58}, "encoding": {
     "x": {"datum": 0, "type": "quantitative", "scale": {"domain": [-3, 3], "nice": false, "zero": false}, "axis": null},
     "y": {"datum": 0, "type": "quantitative", "scale": {"domain": [0, 6], "nice": false, "zero": false}, "axis": null}}}
  ],
  "resolve": {"axis": {"x": "independent", "y": "independent"}}
 },
 {
  "width": 483, "height": 324,
  "layer": [
   {"data": {"name": "one"}, "mark": {"type": "point", "opacity": 0}, "encoding": {
     "x": {"datum": 0, "type": "quantitative", "scale": {"domain": [-3, 3], "nice": false, "zero": false}, "axis": {"orient": "bottom", "values": [-3, -2, -1, 0, 1, 2, 3], "ticks": false, "labelPadding": 10, "labelExpr": "'' + datum.value", "title": null}},
     "y": {"datum": 0, "type": "quantitative", "scale": {"domain": [0, 7], "nice": false, "zero": false}, "axis": {"orient": "left", "values": [0, 1, 2, 3, 4, 5, 6, 7], "ticks": false, "labelPadding": 10, "labelExpr": "'' + datum.value", "title": "Coeficientes de Transmisión", "titlePadding": 8}}}},
   {"data": {"name": "one"}, "mark": {"type": "point", "opacity": 0}, "encoding": {
     "x": {"datum": 0, "type": "quantitative", "scale": {"domain": [-3, 3], "nice": false, "zero": false}, "axis": {"orient": "bottom", "values": [-3, -2, -1, 0, 1, 2, 3], "tickSize": -20, "labels": false, "title": null}},
     "y": {"datum": 0, "type": "quantitative", "scale": {"domain": [0, 7], "nice": false, "zero": false}, "axis": {"orient": "left", "values": [0, 1, 2, 3, 4, 5, 6, 7], "tickSize": -20, "labels": false, "title": null}}}},
   {"data": {"name": "one"}, "mark": {"type": "point", "opacity": 0}, "encoding": {
     "x": {"datum": 0, "type": "quantitative", "scale": {"domain": [-3, 3], "nice": false, "zero": false}, "axis": {"orient": "bottom", "values": [-2.5, -1.5, -0.5, 0.5, 1.5, 2.5], "tickSize": -10, "labels": false, "title": null}},
     "y": {"datum": 0, "type": "quantitative", "scale": {"domain": [0, 7], "nice": false, "zero": false}, "axis": {"orient": "left", "values": [0.5, 1.5, 2.5, 3.5, 4.5, 5.5, 6.5], "tickSize": -10, "labels": false, "title": null}}}},
   {"data": {"name": "one"}, "mark": {"type": "point", "opacity": 0}, "encoding": {
     "x": {"datum": 0, "type": "quantitative", "scale": {"domain": [-3, 3], "nice": false, "zero": false}, "axis": {"orient": "top", "values": [-3, -2, -1, 0, 1, 2, 3], "tickSize": -20, "labels": false, "title": null}},
     "y": {"datum": 0, "type": "quantitative", "scale": {"domain": [0, 7], "nice": false, "zero": false}, "axis": {"orient": "right", "values": [0, 1, 2, 3, 4, 5, 6, 7], "tickSize": -20, "labels": false, "title": null}}}},
   {"data": {"name": "one"}, "mark": {"type": "point", "opacity": 0}, "encoding": {
     "x": {"datum": 0, "type": "quantitative", "scale": {"domain": [-3, 3], "nice": false, "zero": false}, "axis": {"orient": "top", "values": [-2.5, -1.5, -0.5, 0.5, 1.5, 2.5], "tickSize": -10, "labels": false, "title": null}},
     "y": {"datum": 0, "type": "quantitative", "scale": {"domain": [0, 7], "nice": false, "zero": false}, "axis": {"orient": "right", "values": [0.5, 1.5, 2.5, 3.5, 4.5, 5.5, 6.5], "tickSize": -10, "labels": false, "title": null}}}},
   {"data": {"name": "trans"}, "mark": {"type": "line", "color": "black", "strokeWidth": 2.5, "clip": true, "interpolate": "step-after"}, "encoding": {
     "x": {"field": "E", "type": "quantitative", "scale": {"domain": [-3, 3], "nice": false, "zero": false}, "axis": null},
     "y": {"field": "T", "type": "quantitative", "scale": {"domain": [0, 7], "nice": false, "zero": false}, "axis": null}}},
   {"data": {"name": "one"}, "mark": {"type": "text", "text": "E-E", "align": "right", "baseline": "alphabetic", "fontSize": 28, "dx": -14, "dy": 58}, "encoding": {
     "x": {"datum": 0, "type": "quantitative", "scale": {"domain": [-3, 3], "nice": false, "zero": false}, "axis": null},
     "y": {"datum": 0, "type": "quantitative", "scale": {"domain": [0, 7], "nice": false, "zero": false}, "axis": null}}},
   {"data": {"name": "one"}, "mark": {"type": "text", "text": "F", "align": "left", "baseline": "alphabetic", "fontSize": 20, "dx": -14, "dy": 66}, "encoding": {
     "x": {"datum": 0, "type": "quantitative", "scale": {"domain": [-3, 3], "nice": false, "zero": false}, "axis": null},
     "y": {"datum": 0, "type": "quantitative", "scale": {"domain": [0, 7], "nice": false, "zero": false}, "axis": null}}},
   {"data": {"name": "one"}, "mark": {"type": "text", "text": "(eV)", "align": "left", "baseline": "alphabetic", "fontSize": 28, "dx": 3, "dy": 58}, "encoding": {
     "x": {"datum": 0, "type": "quantitative", "scale": {"domain": [-3, 3], "nice": false, "zero": false}, "axis": null},
     "y": {"datum": 0, "type": "quantitative", "scale": {"domain": [0, 7], "nice": false, "zero": false}, "axis": null}}}
  ],
  "resolve": {"axis": {"x": "independent", "y": "independent"}}
 }
],
"columns": 2,
"spacing": {"row": 66, "column": 98},
"bounds": "flush"
}
